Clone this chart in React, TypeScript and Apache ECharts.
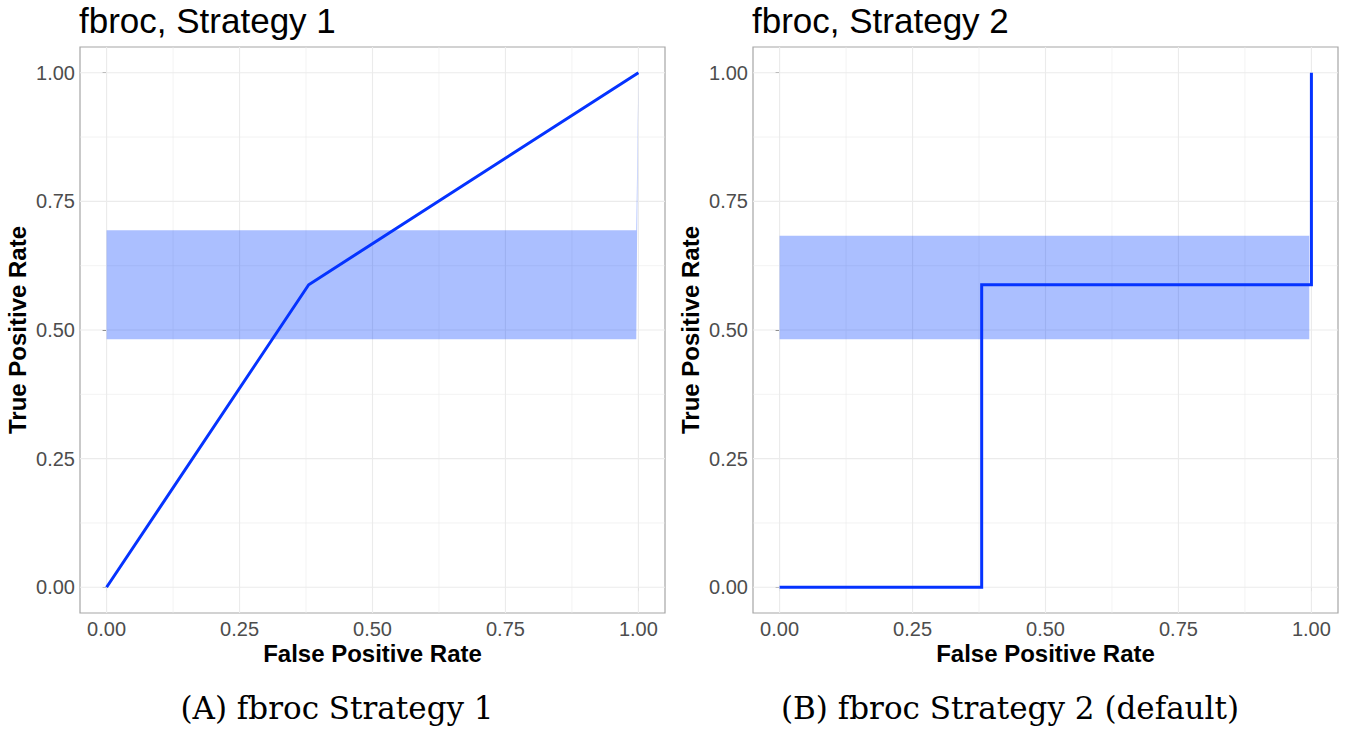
import React, { useEffect, useRef } from "react";
import * as echarts from "echarts";

const titles = ["fbroc, Strategy 1", "fbroc, Strategy 2"];
const captions = ["(A) fbroc Strategy 1", "(B) fbroc Strategy 2 (default)"];
const xName = "False Positive Rate";
const yName = "True Positive Rate";
const tickValues = [0, 0.25, 0.5, 0.75, 1];
const minorValues = [0.125, 0.375, 0.625, 0.875];

// Strategy 1 ROC curve
const fpr1 = [0, 0.38, 1];
const tpr1 = [0, 0.588, 1];
// Strategy 1 confidence band
const band1X = [0, 0.996, 1];
const band1Lo = [0.482, 0.482, 1];
const band1Hi = [0.694, 0.694, 1];

// Strategy 2 ROC curve (step)
const fpr2 = [0, 0.38, 0.38, 1, 1];
const tpr2 = [0, 0, 0.588, 0.588, 1];
// Strategy 2 confidence band
const band2X = [0, 0.996];
const band2Lo = [0.482, 0.482];
const band2Hi = [0.683, 0.683];

const AXIS_MIN = -0.05;
const AXIS_MAX = 1.05;

const LINE_COLOR = "#0533FF";
const BAND_COLOR = "rgba(0,60,255,0.33)";
const GRID_COLOR = "#EBEBEB";

const grids = [
  { left: 80, top: 47, width: 585, height: 566 },
  { left: 753, top: 47, width: 585, height: 566 },
];

function bandSeries(idx: number, xs: number[], lo: number[], hi: number[]) {
  return {
    type: "custom",
    xAxisIndex: idx,
    yAxisIndex: idx,
    z: 2,
    silent: true,
    data: [[0, 0]],
    renderItem: (_params: any, api: any) => {
      const pts: number[][] = [];
      for (let i = 0; i < xs.length; i++) pts.push(api.coord([xs[i], hi[i]]));
      for (let i = xs.length - 1; i >= 0; i--) pts.push(api.coord([xs[i], lo[i]]));
      return {
        type: "polygon",
        shape: { points: pts },
        style: { fill: BAND_COLOR, stroke: "none" },
      };
    },
  };
}

function gridSeries(idx: number) {
  return {
    type: "custom",
    xAxisIndex: idx,
    yAxisIndex: idx,
    z: 1,
    silent: true,
    data: [[0, 0]],
    renderItem: (_params: any, api: any) => {
      const children: any[] = [];
      const add = (v: number, w: number) => {
        const a = api.coord([v, AXIS_MIN]);
        const b = api.coord([v, AXIS_MAX]);
        children.push({
          type: "line",
          shape: { x1: a[0], y1: a[1], x2: b[0], y2: b[1] },
          style: { stroke: GRID_COLOR, lineWidth: w },
        });
        const c = api.coord([AXIS_MIN, v]);
        const d = api.coord([AXIS_MAX, v]);
        children.push({
          type: "line",
          shape: { x1: c[0], y1: c[1], x2: d[0], y2: d[1] },
          style: { stroke: GRID_COLOR, lineWidth: w },
        });
      };
      minorValues.forEach((v) => add(v, 0.6));
      tickValues.forEach((v) => add(v, 1.1));
      return { type: "group", children };
    },
  };
}

function lineSeries(idx: number, xs: number[], ys: number[]) {
  return {
    type: "line",
    xAxisIndex: idx,
    yAxisIndex: idx,
    z: 3,
    silent: true,
    symbol: "none",
    data: xs.map((x, i) => [x, ys[i]]),
    lineStyle: { color: LINE_COLOR, width: 3, cap: "butt", join: "miter" },
  };
}

function axisCommon(isX: boolean) {
  return {
    type: "value",
    min: AXIS_MIN,
    max: AXIS_MAX,
    name: isX ? xName : yName,
    nameLocation: "middle",
    nameGap: isX ? 28 : 51,
    nameMoveOverlap: false,
    nameTextStyle: {
      fontFamily: "Liberation Sans",
      fontWeight: "bold",
      fontSize: 24,
      color: "#000",
    },
    axisLine: { show: false },
    splitLine: { show: false },
    minorSplitLine: { show: false },
    axisTick: {
      show: true,
      customValues: tickValues,
      length: 4,
      lineStyle: { color: "#333", width: 1 },
    },
    axisLabel: {
      customValues: tickValues,
      formatter: (v: number) => v.toFixed(2),
      color: "#4D4D4D",
      fontSize: 20,
      fontFamily: "Liberation Sans",
      margin: isX ? 6 : 5,
    },
  };
}

export default function App() {
  const ref = useRef<HTMLDivElement>(null);
  useEffect(() => {
    if (!ref.current) return;
    const chart = echarts.init(ref.current, null, { renderer: "svg" });
    const option: any = {
      animation: false,
      backgroundColor: "#fff",
      title: titles.map((t, i) => ({
        text: t,
        left: grids[i].left - 1,
        top: 3,
        padding: 0,
        textStyle: {
          fontFamily: "Liberation Sans",
          fontSize: 35,
          fontWeight: "normal",
          color: "#000",
        },
      })),
      grid: grids.map((g) => ({
        ...g,
        show: true,
        borderColor: "#A6A6A6",
        borderWidth: 1.2,
        backgroundColor: "transparent",
        containLabel: false,
        outerBoundsMode: "none",
      })),
      xAxis: [0, 1].map((i) => ({ ...axisCommon(true), gridIndex: i })),
      yAxis: [0, 1].map((i) => ({ ...axisCommon(false), gridIndex: i })),
      series: [
        gridSeries(0),
        gridSeries(1),
        bandSeries(0, band1X, band1Lo, band1Hi),
        bandSeries(1, band2X, band2Lo, band2Hi),
        lineSeries(0, fpr1, tpr1),
        lineSeries(1, fpr2, tpr2),
      ],
      graphic: captions.map((c, i) => ({
        type: "text",
        x: i === 0 ? 337 : 1010,
        y: 708,
        style: {
          text: c,
          fontFamily: "DejaVu Serif",
          fontSize: 31,
          fill: "#000",
          textAlign: "center",
          textVerticalAlign: "middle",
        },
      })),
    };
    chart.setOption(option);
    return () => chart.dispose();
  }, []);
  return (
    <div
      ref={ref}
      style={{ position: "fixed", left: 0, top: 0, width: 1345, height: 732 }}
    />
  );
}
